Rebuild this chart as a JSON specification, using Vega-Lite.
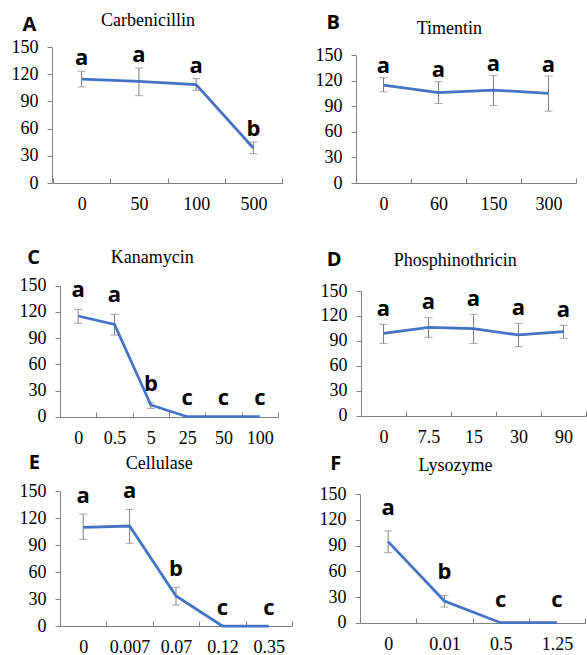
{
  "$schema": "https://vega.github.io/schema/vega-lite/v6.json",
  "padding": {"left": 11, "top": 11, "right": 0, "bottom": 0},
  "background": "#ffffff",
  "datasets": {
    "A": [
      {"conc": "0", "mean": 114.7, "lower": 105.9, "upper": 123.2, "sig": "a"},
      {"conc": "50", "mean": 112.1, "lower": 96.3, "upper": 126.8, "sig": "a"},
      {"conc": "100", "mean": 108.5, "lower": 102.2, "upper": 115.1, "sig": "a"},
      {"conc": "500", "mean": 38.6, "lower": 32.4, "upper": 45.2, "sig": "b"}
    ],
    "B": [
      {"conc": "0", "mean": 114.8, "lower": 106.9, "upper": 123.4, "sig": "a"},
      {"conc": "60", "mean": 105.8, "lower": 93.2, "upper": 118.7, "sig": "a"},
      {"conc": "150", "mean": 108.9, "lower": 90.9, "upper": 126.1, "sig": "a"},
      {"conc": "300", "mean": 105.0, "lower": 84.2, "upper": 125.3, "sig": "a"}
    ],
    "C": [
      {"conc": "0", "mean": 115.3, "lower": 106.9, "upper": 122.9, "sig": "a"},
      {"conc": "0.5", "mean": 105.7, "lower": 93.5, "upper": 117.2, "sig": "a"},
      {"conc": "5", "mean": 13.4, "lower": 9.5, "upper": 16.0, "sig": "b"},
      {"conc": "25", "mean": 0, "lower": 0, "upper": 0, "sig": "c"},
      {"conc": "50", "mean": 0, "lower": 0, "upper": 0, "sig": "c"},
      {"conc": "100", "mean": 0, "lower": 0, "upper": 0, "sig": "c"}
    ],
    "D": [
      {"conc": "0", "mean": 99.1, "lower": 87.0, "upper": 109.9, "sig": "a"},
      {"conc": "7.5", "mean": 106.3, "lower": 94.3, "upper": 117.9, "sig": "a"},
      {"conc": "15", "mean": 104.7, "lower": 87.0, "upper": 121.9, "sig": "a"},
      {"conc": "30", "mean": 97.1, "lower": 83.0, "upper": 111.1, "sig": "a"},
      {"conc": "90", "mean": 101.1, "lower": 93.1, "upper": 108.7, "sig": "a"}
    ],
    "E": [
      {"conc": "0", "mean": 109.6, "lower": 96.3, "upper": 124.4, "sig": "a"},
      {"conc": "0.007", "mean": 111.1, "lower": 91.9, "upper": 129.6, "sig": "a"},
      {"conc": "0.07", "mean": 33.3, "lower": 23.3, "upper": 43.0, "sig": "b"},
      {"conc": "0.12", "mean": 0, "lower": 0, "upper": 0, "sig": "c"},
      {"conc": "0.35", "mean": 0, "lower": 0, "upper": 0, "sig": "c"}
    ],
    "F": [
      {"conc": "0", "mean": 94.7, "lower": 81.8, "upper": 107.1, "sig": "a"},
      {"conc": "0.01", "mean": 25.3, "lower": 18.3, "upper": 31.9, "sig": "b"},
      {"conc": "0.5", "mean": 0, "lower": 0, "upper": 0, "sig": "c"},
      {"conc": "1.25", "mean": 0, "lower": 0, "upper": 0, "sig": "c"}
    ]
  },
  "columns": 2,
  "align": "none",
  "bounds": "flush",
  "spacing": {"row": 20, "column": 4},
  "concat": [
    {
      "width": 300, "height": 136,
      "data": {"name": "A"},
      "encoding": {
        "x": {"field": "conc", "type": "nominal", "sort": null, "bandPosition": 0.5,
          "scale": {"type": "band", "paddingInner": 0, "paddingOuter": 0, "range": [1, 230]},
          "axis": {"title": "Carbenicillin", "titleX": 95.5, "titleY": -157.3}}
      },
      "layer": [
        {"transform": [{"filter": "datum.upper > datum.lower"}],
         "mark": {"type": "rule", "color": "#808080", "strokeWidth": 1},
         "encoding": {"y": {"field": "lower", "type": "quantitative", "title": "A", "scale": {"domain": [0, 150], "nice": false, "range": [136, 0]},
           "axis": {"values": [0, 30, 60, 90, 120, 150], "offset": 0, "titleX": -30, "titleY": -17}}, "y2": {"field": "upper"}}},
        {"transform": [{"filter": "datum.upper > datum.lower"}],
         "mark": {"type": "tick", "color": "#808080", "size": 8, "thickness": 1},
         "encoding": {"y": {"field": "lower", "type": "quantitative", "title": "A", "scale": {"domain": [0, 150], "nice": false, "range": [136, 0]},
           "axis": {"values": [0, 30, 60, 90, 120, 150], "offset": 0, "titleX": -30, "titleY": -17}}}},
        {"transform": [{"filter": "datum.upper > datum.lower"}],
         "mark": {"type": "tick", "color": "#808080", "size": 8, "thickness": 1},
         "encoding": {"y": {"field": "upper", "type": "quantitative", "title": "A", "scale": {"domain": [0, 150], "nice": false, "range": [136, 0]},
           "axis": {"values": [0, 30, 60, 90, 120, 150], "offset": 0, "titleX": -30, "titleY": -17}}}},
        {"mark": {"type": "line", "color": "#4472C4", "strokeWidth": 2.75},
         "encoding": {"y": {"field": "mean", "type": "quantitative", "title": "A", "scale": {"domain": [0, 150], "nice": false, "range": [136, 0]},
           "axis": {"values": [0, 30, 60, 90, 120, 150], "offset": 0, "titleX": -30, "titleY": -17}}}},
        {"mark": {"type": "text", "font": "Open Sans", "fontWeight": "bold", "fontSize": 22, "baseline": "alphabetic", "dy": -6, "color": "#000000"},
         "encoding": {"y": {"field": "upper", "type": "quantitative", "title": "A", "scale": {"domain": [0, 150], "nice": false, "range": [136, 0]},
           "axis": {"values": [0, 30, 60, 90, 120, 150], "offset": 0, "titleX": -30, "titleY": -17}}, "text": {"field": "sig"}}}
      ]
    },
    {
      "width": 230, "height": 136,
      "data": {"name": "B"},
      "encoding": {
        "x": {"field": "conc", "type": "nominal", "sort": null, "bandPosition": 0.5,
          "scale": {"type": "band", "paddingInner": 0, "paddingOuter": 0, "range": [0, 220]},
          "axis": {"title": "Timentin", "titleX": 92.8, "titleY": -149.7}}
      },
      "layer": [
        {"transform": [{"filter": "datum.upper > datum.lower"}],
         "mark": {"type": "rule", "color": "#808080", "strokeWidth": 1},
         "encoding": {"y": {"field": "lower", "type": "quantitative", "title": "B", "scale": {"domain": [0, 150], "nice": false, "range": [136, 8]},
           "axis": {"values": [0, 30, 60, 90, 120, 150], "offset": 0, "titleX": -30, "titleY": -19}}, "y2": {"field": "upper"}}},
        {"transform": [{"filter": "datum.upper > datum.lower"}],
         "mark": {"type": "tick", "color": "#808080", "size": 8, "thickness": 1},
         "encoding": {"y": {"field": "lower", "type": "quantitative", "title": "B", "scale": {"domain": [0, 150], "nice": false, "range": [136, 8]},
           "axis": {"values": [0, 30, 60, 90, 120, 150], "offset": 0, "titleX": -30, "titleY": -19}}}},
        {"transform": [{"filter": "datum.upper > datum.lower"}],
         "mark": {"type": "tick", "color": "#808080", "size": 8, "thickness": 1},
         "encoding": {"y": {"field": "upper", "type": "quantitative", "title": "B", "scale": {"domain": [0, 150], "nice": false, "range": [136, 8]},
           "axis": {"values": [0, 30, 60, 90, 120, 150], "offset": 0, "titleX": -30, "titleY": -19}}}},
        {"mark": {"type": "line", "color": "#4472C4", "strokeWidth": 2.75},
         "encoding": {"y": {"field": "mean", "type": "quantitative", "title": "B", "scale": {"domain": [0, 150], "nice": false, "range": [136, 8]},
           "axis": {"values": [0, 30, 60, 90, 120, 150], "offset": 0, "titleX": -30, "titleY": -19}}}},
        {"mark": {"type": "text", "font": "Open Sans", "fontWeight": "bold", "fontSize": 22, "baseline": "alphabetic", "dy": -4.5, "color": "#000000"},
         "encoding": {"y": {"field": "upper", "type": "quantitative", "title": "B", "scale": {"domain": [0, 150], "nice": false, "range": [136, 8]},
           "axis": {"values": [0, 30, 60, 90, 120, 150], "offset": 0, "titleX": -30, "titleY": -19}}, "text": {"field": "sig"}}}
      ]
    },
    {
      "width": 300, "height": 214,
      "data": {"name": "C"},
      "encoding": {
        "x": {"field": "conc", "type": "nominal", "sort": null, "bandPosition": 0.5,
          "scale": {"type": "band", "paddingInner": 0, "paddingOuter": 0, "range": [8, 226]},
          "axis": {"title": "Kanamycin", "titleX": 99.7, "titleY": -154.3}}
      },
      "layer": [
        {"transform": [{"filter": "datum.upper > datum.lower"}],
         "mark": {"type": "rule", "color": "#808080", "strokeWidth": 1},
         "encoding": {"y": {"field": "lower", "type": "quantitative", "title": "C", "scale": {"domain": [0, 150], "nice": false, "range": [213.7, 82.7]},
           "axis": {"values": [0, 30, 60, 90, 120, 150], "offset": -8, "titleX": -33.3, "titleY": 60.3}}, "y2": {"field": "upper"}}},
        {"transform": [{"filter": "datum.upper > datum.lower"}],
         "mark": {"type": "tick", "color": "#808080", "size": 8, "thickness": 1},
         "encoding": {"y": {"field": "lower", "type": "quantitative", "title": "C", "scale": {"domain": [0, 150], "nice": false, "range": [213.7, 82.7]},
           "axis": {"values": [0, 30, 60, 90, 120, 150], "offset": -8, "titleX": -33.3, "titleY": 60.3}}}},
        {"transform": [{"filter": "datum.upper > datum.lower"}],
         "mark": {"type": "tick", "color": "#808080", "size": 8, "thickness": 1},
         "encoding": {"y": {"field": "upper", "type": "quantitative", "title": "C", "scale": {"domain": [0, 150], "nice": false, "range": [213.7, 82.7]},
           "axis": {"values": [0, 30, 60, 90, 120, 150], "offset": -8, "titleX": -33.3, "titleY": 60.3}}}},
        {"mark": {"type": "line", "color": "#4472C4", "strokeWidth": 2.75},
         "encoding": {"y": {"field": "mean", "type": "quantitative", "title": "C", "scale": {"domain": [0, 150], "nice": false, "range": [213.7, 82.7]},
           "axis": {"values": [0, 30, 60, 90, 120, 150], "offset": -8, "titleX": -33.3, "titleY": 60.3}}}},
        {"mark": {"type": "text", "font": "Open Sans", "fontWeight": "bold", "fontSize": 22, "baseline": "alphabetic", "dy": -12, "color": "#000000"},
         "encoding": {"y": {"field": "upper", "type": "quantitative", "title": "C", "scale": {"domain": [0, 150], "nice": false, "range": [213.7, 82.7]},
           "axis": {"values": [0, 30, 60, 90, 120, 150], "offset": -8, "titleX": -33.3, "titleY": 60.3}}, "text": {"field": "sig"}}}
      ]
    },
    {
      "width": 230, "height": 213,
      "data": {"name": "D"},
      "encoding": {
        "x": {"field": "conc", "type": "nominal", "sort": null, "bandPosition": 0.5,
          "scale": {"type": "band", "paddingInner": 0, "paddingOuter": 0, "range": [5, 230]},
          "axis": {"title": "Phosphinothricin", "titleX": 98.7, "titleY": -150.3}}
      },
      "layer": [
        {"transform": [{"filter": "datum.upper > datum.lower"}],
         "mark": {"type": "rule", "color": "#808080", "strokeWidth": 1},
         "encoding": {"y": {"field": "lower", "type": "quantitative", "title": "D", "scale": {"domain": [0, 150], "nice": false, "range": [212.7, 88]},
           "axis": {"values": [0, 30, 60, 90, 120, 150], "offset": -5, "titleX": -34.7, "titleY": 62}}, "y2": {"field": "upper"}}},
        {"transform": [{"filter": "datum.upper > datum.lower"}],
         "mark": {"type": "tick", "color": "#808080", "size": 8, "thickness": 1},
         "encoding": {"y": {"field": "lower", "type": "quantitative", "title": "D", "scale": {"domain": [0, 150], "nice": false, "range": [212.7, 88]},
           "axis": {"values": [0, 30, 60, 90, 120, 150], "offset": -5, "titleX": -34.7, "titleY": 62}}}},
        {"transform": [{"filter": "datum.upper > datum.lower"}],
         "mark": {"type": "tick", "color": "#808080", "size": 8, "thickness": 1},
         "encoding": {"y": {"field": "upper", "type": "quantitative", "title": "D", "scale": {"domain": [0, 150], "nice": false, "range": [212.7, 88]},
           "axis": {"values": [0, 30, 60, 90, 120, 150], "offset": -5, "titleX": -34.7, "titleY": 62}}}},
        {"mark": {"type": "line", "color": "#4472C4", "strokeWidth": 2.75},
         "encoding": {"y": {"field": "mean", "type": "quantitative", "title": "D", "scale": {"domain": [0, 150], "nice": false, "range": [212.7, 88]},
           "axis": {"values": [0, 30, 60, 90, 120, 150], "offset": -5, "titleX": -34.7, "titleY": 62}}}},
        {"mark": {"type": "text", "font": "Open Sans", "fontWeight": "bold", "fontSize": 22, "baseline": "alphabetic", "dy": -8.5, "color": "#000000"},
         "encoding": {"y": {"field": "upper", "type": "quantitative", "title": "D", "scale": {"domain": [0, 150], "nice": false, "range": [212.7, 88]},
           "axis": {"values": [0, 30, 60, 90, 120, 150], "offset": -5, "titleX": -34.7, "titleY": 62}}, "text": {"field": "sig"}}}
      ]
    },
    {
      "width": 300, "height": 189,
      "data": {"name": "E"},
      "encoding": {
        "x": {"field": "conc", "type": "nominal", "sort": null, "bandPosition": 0.5,
          "scale": {"type": "band", "paddingInner": 0, "paddingOuter": 0, "range": [8, 240]},
          "axis": {"title": "Cellulase", "titleX": 106.8, "titleY": -157.7}}
      },
      "layer": [
        {"transform": [{"filter": "datum.upper > datum.lower"}],
         "mark": {"type": "rule", "color": "#808080", "strokeWidth": 1},
         "encoding": {"y": {"field": "lower", "type": "quantitative", "title": "E", "scale": {"domain": [0, 150], "nice": false, "range": [189, 54]},
           "axis": {"values": [0, 30, 60, 90, 120, 150], "offset": -8, "titleX": -31.7, "titleY": 31.3}}, "y2": {"field": "upper"}}},
        {"transform": [{"filter": "datum.upper > datum.lower"}],
         "mark": {"type": "tick", "color": "#808080", "size": 8, "thickness": 1},
         "encoding": {"y": {"field": "lower", "type": "quantitative", "title": "E", "scale": {"domain": [0, 150], "nice": false, "range": [189, 54]},
           "axis": {"values": [0, 30, 60, 90, 120, 150], "offset": -8, "titleX": -31.7, "titleY": 31.3}}}},
        {"transform": [{"filter": "datum.upper > datum.lower"}],
         "mark": {"type": "tick", "color": "#808080", "size": 8, "thickness": 1},
         "encoding": {"y": {"field": "upper", "type": "quantitative", "title": "E", "scale": {"domain": [0, 150], "nice": false, "range": [189, 54]},
           "axis": {"values": [0, 30, 60, 90, 120, 150], "offset": -8, "titleX": -31.7, "titleY": 31.3}}}},
        {"mark": {"type": "line", "color": "#4472C4", "strokeWidth": 2.75},
         "encoding": {"y": {"field": "mean", "type": "quantitative", "title": "E", "scale": {"domain": [0, 150], "nice": false, "range": [189, 54]},
           "axis": {"values": [0, 30, 60, 90, 120, 150], "offset": -8, "titleX": -31.7, "titleY": 31.3}}}},
        {"mark": {"type": "text", "font": "Open Sans", "fontWeight": "bold", "fontSize": 22, "baseline": "alphabetic", "dy": -11, "color": "#000000"},
         "encoding": {"y": {"field": "upper", "type": "quantitative", "title": "E", "scale": {"domain": [0, 150], "nice": false, "range": [189, 54]},
           "axis": {"values": [0, 30, 60, 90, 120, 150], "offset": -8, "titleX": -31.7, "titleY": 31.3}}, "text": {"field": "sig"}}}
      ]
    },
    {
      "width": 230, "height": 186,
      "data": {"name": "F"},
      "encoding": {
        "x": {"field": "conc", "type": "nominal", "sort": null, "bandPosition": 0.5,
          "scale": {"type": "band", "paddingInner": 0, "paddingOuter": 0, "range": [4, 229]},
          "axis": {"title": "Lysozyme", "titleX": 99, "titleY": -152.7}}
      },
      "layer": [
        {"transform": [{"filter": "datum.upper > datum.lower"}],
         "mark": {"type": "rule", "color": "#808080", "strokeWidth": 1},
         "encoding": {"y": {"field": "lower", "type": "quantitative", "title": "F", "scale": {"domain": [0, 150], "nice": false, "range": [185.7, 57.3]},
           "axis": {"values": [0, 30, 60, 90, 120, 150], "offset": -4, "titleX": -30.3, "titleY": 32.3}}, "y2": {"field": "upper"}}},
        {"transform": [{"filter": "datum.upper > datum.lower"}],
         "mark": {"type": "tick", "color": "#808080", "size": 8, "thickness": 1},
         "encoding": {"y": {"field": "lower", "type": "quantitative", "title": "F", "scale": {"domain": [0, 150], "nice": false, "range": [185.7, 57.3]},
           "axis": {"values": [0, 30, 60, 90, 120, 150], "offset": -4, "titleX": -30.3, "titleY": 32.3}}}},
        {"transform": [{"filter": "datum.upper > datum.lower"}],
         "mark": {"type": "tick", "color": "#808080", "size": 8, "thickness": 1},
         "encoding": {"y": {"field": "upper", "type": "quantitative", "title": "F", "scale": {"domain": [0, 150], "nice": false, "range": [185.7, 57.3]},
           "axis": {"values": [0, 30, 60, 90, 120, 150], "offset": -4, "titleX": -30.3, "titleY": 32.3}}}},
        {"mark": {"type": "line", "color": "#4472C4", "strokeWidth": 2.75},
         "encoding": {"y": {"field": "mean", "type": "quantitative", "title": "F", "scale": {"domain": [0, 150], "nice": false, "range": [185.7, 57.3]},
           "axis": {"values": [0, 30, 60, 90, 120, 150], "offset": -4, "titleX": -30.3, "titleY": 32.3}}}},
        {"mark": {"type": "text", "font": "Open Sans", "fontWeight": "bold", "fontSize": 22, "baseline": "alphabetic", "dy": -16, "color": "#000000"},
         "encoding": {"y": {"field": "upper", "type": "quantitative", "title": "F", "scale": {"domain": [0, 150], "nice": false, "range": [185.7, 57.3]},
           "axis": {"values": [0, 30, 60, 90, 120, 150], "offset": -4, "titleX": -30.3, "titleY": 32.3}}, "text": {"field": "sig"}}}
      ]
    }
  ],
  "config": {
    "view": {"stroke": null},
    "axis": {"grid": false, "labelOverlap": false, "labelFont": "Liberation Serif", "labelFontSize": 18, "labelColor": "#000000", "domainColor": "#808080", "tickColor": "#808080", "domainWidth": 1, "tickWidth": 1},
    "axisX": {"labelAngle": 0, "tickBand": "extent", "tickSize": -5, "labelPadding": 17, "labelOverlap": false, "titleFont": "Liberation Serif", "titleFontSize": 18, "titleFontWeight": "normal", "titleColor": "#000000", "titleAlign": "center", "titleBaseline": "alphabetic", "titleAngle": 0},
    "axisY": {"tickSize": 5, "labelPadding": 9, "labelOverlap": false, "titleFont": "Open Sans", "titleFontSize": 20, "titleFontWeight": "bold", "titleColor": "#000000", "titleAngle": 0, "titleAlign": "left", "titleBaseline": "alphabetic"}
  }
}
